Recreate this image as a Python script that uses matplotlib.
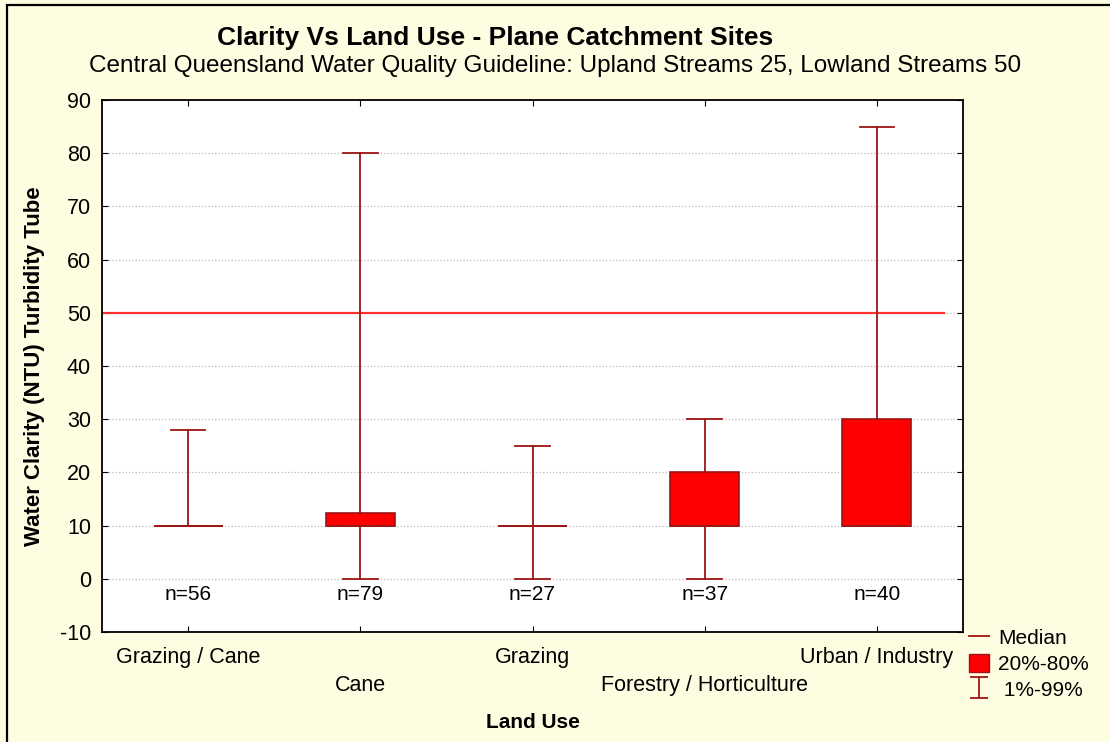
import matplotlib
matplotlib.use("Agg")
import matplotlib.pyplot as plt
import matplotlib.collections as mcoll
from matplotlib.patches import Patch, Rectangle
from matplotlib.lines import Line2D
from matplotlib.container import ErrorbarContainer

# percentile summary per land use (turbidity tube, NTU)
land_use = ["Grazing / Cane", "Cane", "Grazing", "Forestry / Horticulture", "Urban / Industry"]
n_samples = [56, 79, 27, 37, 40]
p01 = [10, 0, 0, 0, 10]
p20 = [10, 10, 10, 10, 10]
p50 = [10, 10, 10, 10, 10]
p80 = [10, 12.3, 10, 20, 30]
p99 = [28, 80, 25, 30, 85]
lowland_guideline = 50
y_ticks = list(range(-10, 100, 10))

plt.rcParams['font.family'] = ['Liberation Sans', 'DejaVu Sans']
plt.rcParams['axes.unicode_minus'] = False

bg = '#FFFDE1'
dark = '#9E1414'

fig = plt.figure(figsize=(11.1, 7.42), dpi=100, facecolor=bg)
ax = fig.add_axes([102/1110, 1-632/742, (963-102)/1110, (632-100)/742])
ax.set_facecolor('white')

stats = []
for i in range(len(land_use)):
    stats.append(dict(med=p50[i], q1=p20[i], q3=p80[i],
                      whislo=p01[i], whishi=p99[i], label=land_use[i]))
pos = list(range(1, len(land_use)+1))
ax.bxp(stats, positions=pos, widths=0.4, capwidths=0.2, patch_artist=True,
       showfliers=False, manage_ticks=False,
       boxprops=dict(facecolor='#FF0000', edgecolor=dark, lw=1.2),
       whiskerprops=dict(color=dark, lw=1.3),
       capprops=dict(color=dark, lw=1.3),
       medianprops=dict(color=dark, lw=1.3))

ax.axhline(lowland_guideline, xmin=0, xmax=0.978, color='#FF3030', lw=1.6, zorder=1)

for p, n in zip(pos, n_samples):
    ax.text(p, -3, "n=%d" % n, ha='center', va='center', fontsize=15)

ax.set_xlim(0.5, 5.5)
ax.set_ylim(-10, 90)
ax.set_yticks(y_ticks)
ax.set_xticks(pos)
ax.set_xticklabels([lab if i % 2 == 0 else "\n" + lab for i, lab in enumerate(land_use)],
                   linespacing=1.45)
ax.tick_params(direction='in', top=True, right=True, length=4, labelsize=15.5, pad=8)
ax.tick_params(axis='x', pad=11)
ax.yaxis.grid(True, color='#BBBBBB', ls=':', lw=0.9)
ax.set_axisbelow(True)
for s in ax.spines.values():
    s.set_linewidth(1.3)

ax.set_ylabel("Water Clarity (NTU) Turbidity Tube", fontsize=16, fontweight='bold')
ax.yaxis.set_label_coords(-0.066, 0.5)
ax.set_xlabel("Land Use", fontsize=15, fontweight='bold', labelpad=12)

fig.text(495/1110, 1-38/742, "Clarity Vs Land Use - Plane Catchment Sites",
         ha='center', va='center', fontsize=19, fontweight='bold')
fig.text(555/1110, 1-66/742,
         "Central Queensland Water Quality Guideline: Upland Streams 25, Lowland Streams 50",
         ha='center', va='center', fontsize=17.5)

# legend: median, box, whisker range (proxy errorbar with caps)
cap = Line2D([], [], color=dark, marker='_', ms=13, mew=1.3, ls='none')
bar = mcoll.LineCollection([], colors=dark, linewidths=1.3)
eb = ErrorbarContainer((None, (cap, cap), (bar,)), has_xerr=False, has_yerr=True)
handles = [Line2D([], [], color=dark, lw=1.3),
           Patch(facecolor='#FF0000', edgecolor=dark),
           eb]
fig.legend(handles, ["Median", "20%-80%", " 1%-99%"], loc='upper left',
           bbox_to_anchor=(969/1110, 1-628/742), frameon=False, fontsize=15,
           handlelength=0.95, handleheight=1.0, handletextpad=0.45,
           labelspacing=0.25, borderpad=0, borderaxespad=0)

fig.add_artist(Rectangle((7/1110, -0.1), 1.2, 1-5/742+0.1, transform=fig.transFigure,
                         fill=False, edgecolor='black', lw=1.6))

fig.savefig('out.png', dpi=100, facecolor=fig.get_facecolor())
